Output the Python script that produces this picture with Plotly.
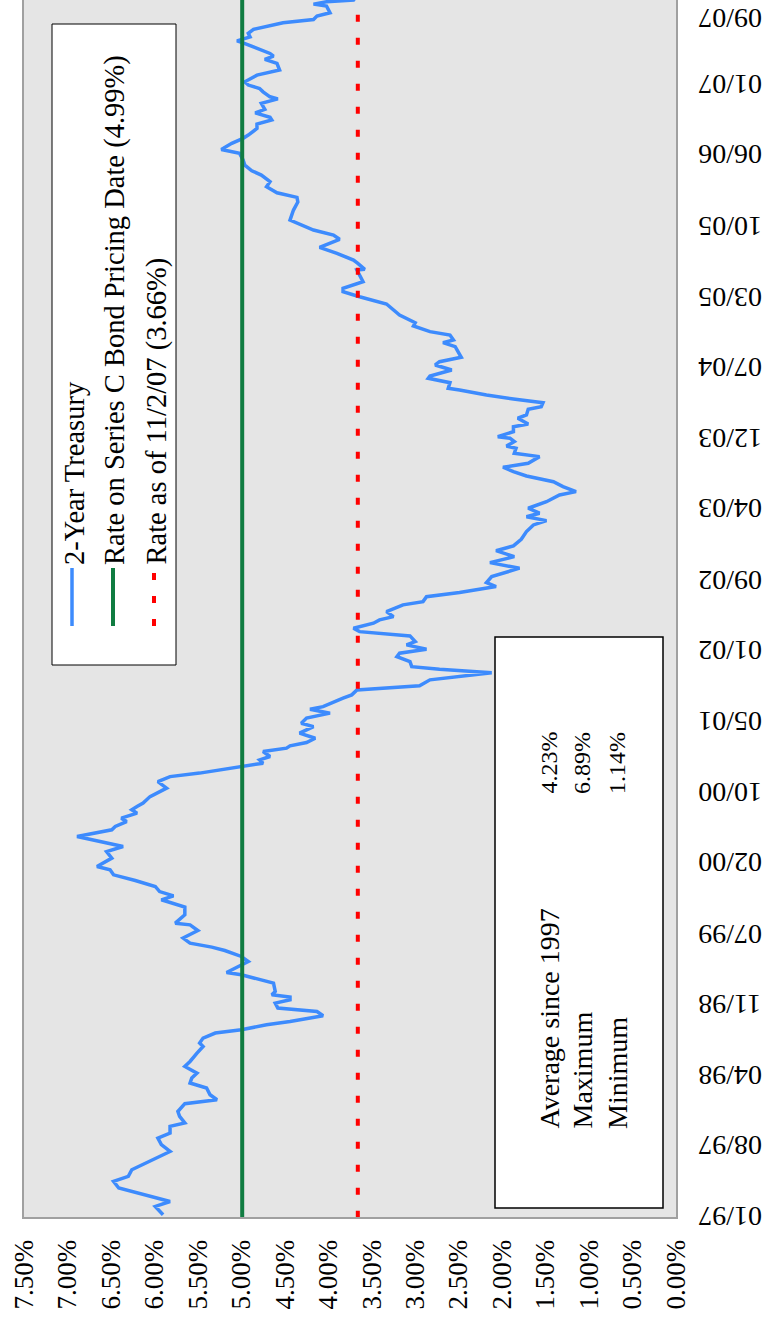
import numpy as np
import pandas as pd
import plotly.graph_objects as go

# ---- data ----
# time in decimal years, 2-year Treasury yield in percent
T = [1997.026, 1997.099, 1997.143, 1997.203, 1997.262, 1997.321, 1997.365, 1997.424, 1997.513, 1997.586,
     1997.646, 1997.705, 1997.749, 1997.808, 1997.838, 1997.896, 1997.940, 1998.009, 1998.044, 1998.088,
     1998.148, 1998.192, 1998.236, 1998.280, 1998.339, 1998.383, 1998.457, 1998.516, 1998.546, 1998.590,
     1998.635, 1998.664, 1998.708, 1998.737, 1998.788, 1998.826, 1998.856, 1998.900, 1998.929, 1998.953,
     1998.974, 1999.003, 1999.077, 1999.151, 1999.171, 1999.224, 1999.268, 1999.313, 1999.366, 1999.396,
     1999.431, 1999.476, 1999.543, 1999.593, 1999.608, 1999.682, 1999.750, 1999.815, 1999.850, 1999.888,
     1999.933, 1999.986, 2000.036, 2000.080, 2000.110, 2000.184, 2000.242, 2000.287, 2000.331, 2000.375,
     2000.435, 2000.464, 2000.508, 2000.538, 2000.582, 2000.612, 2000.641, 2000.671, 2000.729, 2000.804,
     2000.862, 2000.906, 2000.937, 2000.966, 2000.995, 2001.025, 2001.054, 2001.084, 2001.128, 2001.158,
     2001.178, 2001.208, 2001.246, 2001.291, 2001.349, 2001.379, 2001.424, 2001.468, 2001.503, 2001.526,
     2001.601, 2001.630, 2001.674, 2001.710, 2001.763, 2001.825, 2001.857, 2001.880, 2001.925, 2001.969,
     2001.999, 2002.034, 2002.073, 2002.102, 2002.152, 2002.190, 2002.220, 2002.265, 2002.294, 2002.323,
     2002.367, 2002.427, 2002.456, 2002.500, 2002.536, 2002.559, 2002.589, 2002.624, 2002.677, 2002.752,
     2002.801, 2002.854, 2002.907, 2002.949, 2003.008, 2003.076, 2003.135, 2003.173, 2003.208, 2003.239,
     2003.283, 2003.341, 2003.401, 2003.430, 2003.474, 2003.518, 2003.569, 2003.607, 2003.646, 2003.681,
     2003.740, 2003.770, 2003.814, 2003.834, 2003.873, 2003.903, 2003.917, 2003.961, 2004.005, 2004.029,
     2004.080, 2004.109, 2004.159, 2004.182, 2004.218, 2004.251, 2004.286, 2004.330, 2004.345, 2004.395,
     2004.434, 2004.454, 2004.507, 2004.552, 2004.581, 2004.620, 2004.669, 2004.714, 2004.749, 2004.773,
     2004.817, 2004.847, 2004.897, 2004.926, 2004.994, 2005.024, 2005.092, 2005.156, 2005.201, 2005.231,
     2005.289, 2005.393, 2005.399, 2005.452, 2005.481, 2005.541, 2005.594, 2005.665, 2005.703, 2005.747,
     2005.782, 2005.835, 2005.924, 2005.995, 2006.036, 2006.077, 2006.130, 2006.175, 2006.234, 2006.272,
     2006.322, 2006.367, 2006.426, 2006.461, 2006.515, 2006.559, 2006.588, 2006.647, 2006.685, 2006.721,
     2006.745, 2006.785, 2006.816, 2006.869, 2006.909, 2006.927, 2006.971, 2007.001, 2007.031, 2007.060,
     2007.119, 2007.164, 2007.223, 2007.258, 2007.288, 2007.311, 2007.405, 2007.423, 2007.458, 2007.489,
     2007.524, 2007.583, 2007.612, 2007.642, 2007.671, 2007.730, 2007.748, 2007.768, 2007.783, 2007.838]

RATE = [5.90, 5.99, 5.82, 6.13, 6.41, 6.47, 6.30, 6.26, 6.03, 5.82,
        5.92, 5.96, 5.82, 5.82, 5.65, 5.71, 5.73, 5.65, 5.28, 5.36,
        5.40, 5.59, 5.57, 5.51, 5.65, 5.59, 5.51, 5.44, 5.48, 5.44,
        5.30, 5.00, 4.71, 4.44, 4.06, 4.13, 4.58, 4.61, 4.44, 4.44,
        4.65, 4.61, 4.63, 5.00, 5.17, 5.04, 4.92, 5.00, 5.19, 5.34,
        5.59, 5.67, 5.50, 5.59, 5.76, 5.65, 5.65, 5.92, 5.78, 5.94,
        5.99, 6.22, 6.47, 6.51, 6.66, 6.49, 6.55, 6.36, 6.63, 6.89,
        6.49, 6.45, 6.32, 6.38, 6.20, 6.26, 6.20, 6.13, 6.05, 5.86,
        5.96, 5.82, 5.48, 5.25, 5.02, 4.75, 4.79, 4.67, 4.75, 4.48,
        4.44, 4.25, 4.15, 4.33, 4.17, 4.31, 4.25, 3.98, 4.21, 4.06,
        3.83, 3.73, 3.67, 2.95, 2.83, 2.12, 2.72, 3.04, 3.06, 3.21,
        3.18, 2.87, 3.10, 3.00, 3.06, 3.64, 3.71, 3.48, 3.41, 3.25,
        3.33, 3.14, 2.91, 2.87, 2.49, 2.30, 2.07, 2.18, 2.12, 1.80,
        2.14, 1.86, 2.07, 1.87, 1.78, 1.72, 1.64, 1.49, 1.72, 1.57,
        1.70, 1.49, 1.34, 1.15, 1.30, 1.41, 1.72, 1.87, 1.99, 1.70,
        1.57, 1.86, 1.84, 1.95, 1.86, 1.91, 2.05, 1.87, 1.87, 1.70,
        1.82, 1.72, 1.70, 1.55, 1.53, 1.87, 2.18, 2.49, 2.62, 2.60,
        2.85, 2.83, 2.58, 2.77, 2.72, 2.47, 2.51, 2.54, 2.68, 2.56,
        2.60, 2.83, 3.02, 3.00, 3.18, 3.23, 3.33, 3.64, 3.83, 3.83,
        3.60, 3.67, 3.58, 3.66, 3.71, 3.90, 4.10, 3.87, 3.94, 4.17,
        4.27, 4.44, 4.40, 4.35, 4.36, 4.59, 4.71, 4.67, 4.77, 4.88,
        4.96, 4.98, 5.02, 5.23, 5.11, 4.98, 4.92, 4.82, 4.82, 4.65,
        4.67, 4.84, 4.73, 4.77, 4.58, 4.67, 4.75, 4.79, 4.92, 4.96,
        4.82, 4.56, 4.59, 4.73, 4.63, 4.67, 4.98, 5.05, 4.90, 4.92,
        4.86, 4.52, 4.17, 4.13, 3.98, 4.02, 4.17, 4.02, 3.71, 3.66]

SERIES_C_RATE = 4.99
CURRENT_RATE = 3.66
DATE_TICK_LABELS = ["01/97", "08/97", "04/98", "11/98", "07/99", "02/00", "10/00", "05/01", "01/02",
                    "09/02", "04/03", "12/03", "07/04", "03/05", "10/05", "06/06", "01/07", "09/07"]
VALUE_TICKS = [0.0, 0.5, 1.0, 1.5, 2.0, 2.5, 3.0, 3.5, 4.0, 4.5, 5.0, 5.5, 6.0, 6.5, 7.0, 7.5]
STAT_LABELS = ["Average since 1997", "Maximum", "Minimum"]
STAT_VALUES = ["4.23%", "6.89%", "1.14%"]
LEGEND_NAMES = ["2-Year Treasury", "Rate on Series C Bond Pricing Date (4.99%)", "Rate as of 11/2/07 (3.66%)"]

# ---- derived ----
base = pd.Timestamp("1997-01-01")
dates = [base + pd.Timedelta(days=(t - 1997.0) * 365.25) for t in T]
tick_start = pd.Timestamp("1997-01-03")
tick_dates = [tick_start + pd.Timedelta(days=229 * k) for k in range(len(DATE_TICK_LABELS))]
y_range = [pd.Timestamp("1997-01-03"), pd.Timestamp("2007-10-15")]
value_ticktext = [f"{v:.2f}%" for v in VALUE_TICKS]

FONT = "Liberation Serif, Times New Roman, serif"
BLUE = "#3d8bfd"
GREEN = "#107c41"
RED = "#ff0000"

W, H = 764, 1322
ML, MR, MT, MB = 24, 88, 0, 105
PW, PH = W - ML - MR, H - MT - MB


def px(x):
    return (x - ML) / PW


def py(y):
    return (MT + PH - y) / PH


fig = go.Figure()
fig.add_trace(go.Scatter(x=RATE, y=dates, mode="lines", line=dict(color=BLUE, width=3.5),
                         name=LEGEND_NAMES[0], showlegend=False))
fig.add_trace(go.Scatter(x=[SERIES_C_RATE, SERIES_C_RATE], y=[dates[0] - pd.Timedelta(days=10), dates[-1]],
                         mode="lines", line=dict(color=GREEN, width=4), name=LEGEND_NAMES[1], showlegend=False))
fig.add_trace(go.Scatter(x=[CURRENT_RATE, CURRENT_RATE], y=[dates[0] - pd.Timedelta(days=10), dates[-1]],
                         mode="lines", line=dict(color=RED, width=4, dash="7px,16px"),
                         name=LEGEND_NAMES[2], showlegend=False))

shapes = []
annotations = []

# legend box (drawn rotated, like the reference)
shapes.append(dict(type="rect", xref="paper", yref="paper", x0=px(52), x1=px(176), y0=py(665), y1=py(24),
                   fillcolor="white", line=dict(color="black", width=1), layer="above"))
leg_cols = [74, 115, 156]
leg_styles = [dict(color=BLUE, width=3.5), dict(color=GREEN, width=4), dict(color=RED, width=4, dash="7px,16px")]
for cx, name, st in zip(leg_cols, LEGEND_NAMES, leg_styles):
    shapes.append(dict(type="line", xref="paper", yref="paper", x0=px(cx - 2), x1=px(cx - 2),
                       y0=py(626), y1=py(568), line=st, layer="above"))
    annotations.append(dict(xref="paper", yref="paper", x=px(cx), y=py(567), text=name, textangle=-90,
                            showarrow=False, xanchor="center", yanchor="bottom",
                            font=dict(family=FONT, size=28.5, color="black")))

# statistics box
shapes.append(dict(type="rect", xref="paper", yref="paper", x0=px(495), x1=px(663), y0=py(1208), y1=py(637),
                   fillcolor="white", line=dict(color="black", width=1.5), layer="above"))
stat_cols = [548.5, 582, 617]
for cx, lab, val in zip(stat_cols, STAT_LABELS, STAT_VALUES):
    annotations.append(dict(xref="paper", yref="paper", x=px(cx), y=py(1131), text=lab, textangle=-90,
                            showarrow=False, xanchor="center", yanchor="bottom",
                            font=dict(family=FONT, size=28, color="black")))
    annotations.append(dict(xref="paper", yref="paper", x=px(cx), y=py(796), text=val, textangle=-90,
                            showarrow=False, xanchor="center", yanchor="bottom",
                            font=dict(family=FONT, size=24, color="black")))

# date labels on the right (upside-down, like the reference)
for i, (d, lab) in enumerate(zip(tick_dates, DATE_TICK_LABELS)):
    annotations.append(dict(xref="paper", yref="y", x=px(696), y=d, text=lab, textangle=180,
                            showarrow=False, xanchor="left", yanchor="middle",
                            yshift=-5 if i == len(DATE_TICK_LABELS) - 1 else 0,
                            font=dict(family=FONT, size=28, color="black")))

fig.update_layout(
    width=W, height=H,
    margin=dict(l=ML, r=MR, t=MT, b=MB, pad=0),
    paper_bgcolor="white",
    plot_bgcolor="#e5e5e5",
    showlegend=False,
    shapes=shapes,
    annotations=annotations,
    font=dict(family=FONT, size=28, color="black"),
    xaxis=dict(range=[7.5, 0], tickvals=VALUE_TICKS, ticktext=value_ticktext,
               tickangle=-90, showgrid=False, zeroline=False, showline=True, linecolor="#a0a0a0",
               linewidth=2, ticks="", ticklabelstandoff=10,
               tickfont=dict(family=FONT, size=27, color="black")),
    yaxis=dict(type="date", range=y_range, side="right", showticklabels=False,
               showgrid=False, zeroline=False, showline=True, mirror=True,
               linecolor="#a0a0a0", linewidth=2, ticks=""),
)

fig.write_html("out.html")
